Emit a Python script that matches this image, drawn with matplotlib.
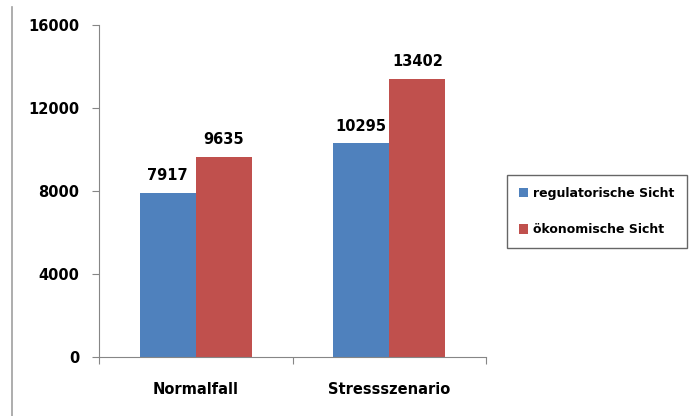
import numpy as np
import matplotlib.pyplot as plt
from matplotlib.lines import Line2D

categories = ['Normalfall', 'Stressszenario']
series = ['regulatorische Sicht', 'ökonomische Sicht']
regulatorisch = [7917, 10295]
oekonomisch = [9635, 13402]
colors = ['#4F81BD', '#C0504D']
yticks = [0, 4000, 8000, 12000, 16000]

plt.rcParams['font.family'] = ['DejaVu Sans']
plt.rcParams['font.weight'] = 'bold'

fig = plt.figure(figsize=(6.96, 4.16), dpi=100)
ax = fig.add_axes([99/696, 59/416, 387/696, 332/416])

x = np.arange(len(categories))
w = 0.29
for i, vals in enumerate([regulatorisch, oekonomisch]):
    off = (i - 0.5) * w
    bars = ax.bar(x + off, vals, w, color=colors[i], label=series[i])
    for b, v in zip(bars, vals):
        ax.annotate(str(v), (b.get_x() + b.get_width()/2, v), xytext=(0, 7),
                    textcoords='offset points', ha='center', va='bottom',
                    fontsize=10.5, fontweight='bold')

ax.set_xlim(-0.5, 1.5)
ax.set_ylim(0, 16000)
ax.set_yticks(yticks)
ax.set_yticklabels([str(t) for t in yticks], fontsize=10.5, fontweight='bold')
ax.set_xticks([-0.5, 0.5, 1.5])
ax.set_xticklabels([])
ax.set_xticks(x, minor=True)
ax.set_xticklabels(categories, minor=True, fontsize=10.5, fontweight='bold')
ax.tick_params(axis='x', which='minor', length=0, pad=18)
ax.tick_params(axis='x', which='major', length=5, color='#868686')
ax.tick_params(axis='y', length=5, color='#868686', pad=9)
for s in ['top', 'right']:
    ax.spines[s].set_visible(False)
for s in ['left', 'bottom']:
    ax.spines[s].set_color('#868686')

leg = ax.legend(loc='center left', bbox_to_anchor=(507/696, 204.5/416),
                bbox_transform=fig.transFigure, fontsize=9, frameon=True,
                fancybox=False, edgecolor='#404040', handlelength=0.75,
                handleheight=0.8, handletextpad=0.4, labelspacing=1.9,
                borderpad=0.95, borderaxespad=0)
leg.get_frame().set_linewidth(1.0)

fig.add_artist(Line2D([12/696, 12/696], [0, 409/416], color='#A0A0A0', lw=1.2))

fig.savefig('out.png', dpi=100)
